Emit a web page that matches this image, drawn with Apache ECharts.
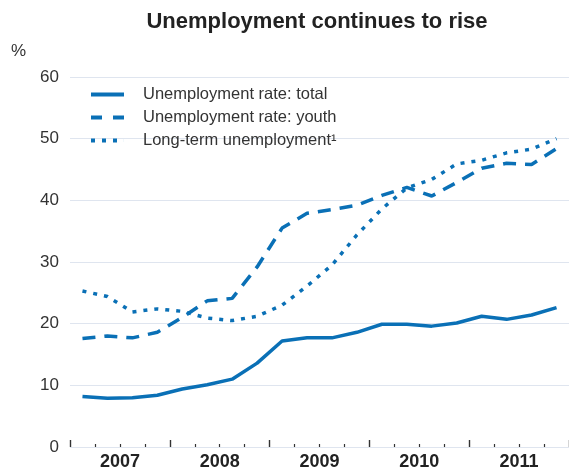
<!DOCTYPE html>
<html>
<head>
<meta charset="utf-8">
<script src="https://cdn.jsdelivr.net/npm/echarts@6/dist/echarts.min.js"></script>
<style>
  html, body { margin: 0; padding: 0; background: #fff; }
  #chart { width: 569px; height: 468px; }
</style>
</head>
<body>
<div id="chart"></div>
<script>
// years shown on the x axis, 4 quarters each
var years = ['2007', '2008', '2009', '2010', '2011'];
// quarterly values, 2007 Q1 .. 2011 Q4, in %
var totalRate = [8.2, 7.9, 8.0, 8.4, 9.4, 10.1, 11.0, 13.6, 17.2, 17.7, 17.7, 18.6, 19.9, 19.9, 19.6, 20.1, 21.2, 20.7, 21.4, 22.6];
var youthRate = [17.6, 18.0, 17.7, 18.6, 21.0, 23.7, 24.1, 29.2, 35.5, 37.9, 38.5, 39.2, 40.8, 42.1, 40.7, 42.9, 45.2, 46.0, 45.8, 48.4];
var longTerm = [25.3, 24.4, 21.9, 22.4, 22.0, 20.9, 20.5, 21.2, 23.0, 26.1, 29.5, 34.4, 38.6, 42.0, 43.4, 45.9, 46.5, 47.7, 48.3, 50.0];

var names = ['Unemployment rate: total', 'Unemployment rate: youth', 'Long-term unemployment\u00b9'];

var blue = '#0a70b6';

// place each quarter in the middle of its slot
function toPoints(arr) {
    return arr.map(function (v, i) { return [i + 0.5, v]; });
}

var myChart = echarts.init(document.getElementById('chart'));

var option = {
    animation: false,
    title: {
        text: 'Unemployment continues to rise',
        left: 312,
        textAlign: 'center',
        top: 6,
        textStyle: { fontFamily: 'Liberation Sans', fontSize: 22, fontWeight: 'bold', color: '#222' }
    },
    graphic: [{
        type: 'text',
        left: 11,
        top: 43,
        style: { text: '%', font: '17px "Liberation Sans"', fill: '#333' }
    }],
    legend: {
        orient: 'vertical',
        left: 91,
        top: 86,
        padding: 0,
        itemWidth: 33,
        itemHeight: 4,
        itemGap: 6,
        textStyle: { fontFamily: 'Liberation Sans', fontSize: 16.5, color: '#333', padding: [0, 0, 0, 14] },
        data: [
            { name: names[0], icon: 'path://M0,0H33V4H0Z' },
            { name: names[1], icon: 'path://M0,0H11V4H0ZM22,0H33V4H22Z' },
            { name: names[2], icon: 'path://M0,0H4V4H0ZM11,0H15V4H11ZM22,0H26V4H22ZM32.95,0H33V4H32.95Z' }
        ]
    },
    grid: { left: 70, right: 0, top: 77, bottom: 21, containLabel: false, outerBoundsMode: 'none' },
    xAxis: [{
        type: 'value',
        min: 0,
        max: 20,
        interval: 4,
        axisLine: { show: false },
        axisTick: { show: true, inside: true, length: 7, lineStyle: { color: '#333', width: 1.4 } },
        minorTick: { show: true, splitNumber: 4, length: 3, lineStyle: { color: '#333', width: 1.2 } },
        axisLabel: { show: false },
        splitLine: { show: false }
    }, {
        type: 'value',
        position: 'bottom',
        min: 0,
        max: 20,
        interval: 2,
        axisLine: { show: false },
        axisTick: { show: false },
        splitLine: { show: false },
        axisLabel: {
            margin: 6,
            fontFamily: 'Liberation Sans',
            fontSize: 18,
            fontWeight: 'bold',
            color: '#222',
            formatter: function (v) {
                return v % 4 === 2 ? years[(v - 2) / 4] : '';
            }
        }
    }],
    yAxis: {
        type: 'value',
        min: 0,
        max: 60,
        interval: 10,
        axisLine: { show: false },
        axisTick: { show: false },
        axisLabel: { margin: 11, fontFamily: 'Liberation Sans', fontSize: 17, color: '#333' },
        splitLine: { lineStyle: { color: '#dfe5ef', width: 1.2 } }
    },
    series: [{
        name: names[0],
        type: 'line',
        symbol: 'none',
        data: toPoints(totalRate),
        itemStyle: { color: blue },
        lineStyle: { color: blue, width: 3.5 }
    }, {
        name: names[1],
        type: 'line',
        symbol: 'none',
        data: toPoints(youthRate),
        itemStyle: { color: blue },
        lineStyle: { color: blue, width: 3.5, type: [13, 9] }
    }, {
        name: names[2],
        type: 'line',
        symbol: 'none',
        data: toPoints(longTerm),
        itemStyle: { color: blue },
        lineStyle: { color: blue, width: 3.5, type: [4, 7] }
    }]
};
myChart.setOption(option);
</script>
</body>
</html>
